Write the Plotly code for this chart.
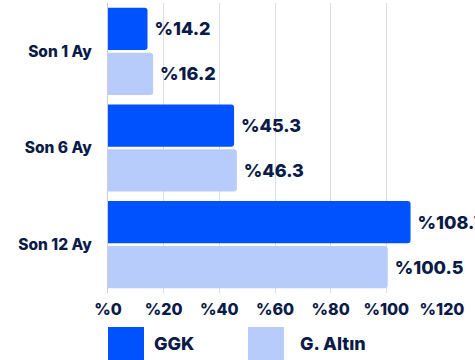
import plotly.graph_objects as go

# Return periods and series values (percent)
periods = ["Son 1 Ay", "Son 6 Ay", "Son 12 Ay"]
ggk = [14.2, 45.3, 108.7]
altin = [16.2, 46.3, 100.5]
series_names = ["GGK", "G. Altın"]
x_ticks = [0, 20, 40, 60, 80, 100, 120]
x_tick_labels = ["%" + str(t) for t in x_ticks]

DARK = "#0B1B47"
C_GGK = "#0052FF"
C_ALTIN = "#B7CCFA"
FONT = "Inter"

fig = go.Figure()
for name, vals, col in [(series_names[0], ggk, C_GGK), (series_names[1], altin, C_ALTIN)]:
    fig.add_trace(go.Bar(
        y=periods, x=vals, name=name, orientation="h",
        marker=dict(color=col, line=dict(width=0)),
        text=[" %" + f"{v:.1f}" for v in vals],
        textposition="outside", constraintext="none", cliponaxis=False,
        textfont=dict(family=FONT, size=18, color=DARK, weight=800),
        showlegend=False,
    ))

fig.update_layout(
    width=475, height=360,
    margin=dict(l=108, r=33, t=3, b=67),
    paper_bgcolor="white", plot_bgcolor="white",
    barmode="group", bargap=0.07, bargroupgap=0.06, barcornerradius=3,
    font=dict(family=FONT, color=DARK),
    xaxis=dict(range=[0, 120], tickvals=x_ticks, ticktext=x_tick_labels,
               showgrid=True, gridcolor="#D9DDE6", gridwidth=1, zeroline=False,
               tickfont=dict(family=FONT, size=16, color=DARK, weight=800),
               ticks="", ticklabelstandoff=5),
    yaxis=dict(autorange="reversed", showgrid=False, showline=True,
               linecolor="#C9CDD6", linewidth=1, ticks="",
               tickfont=dict(family=FONT, size=15.5, color=DARK, weight=800),
               ticklabelstandoff=12),
)

# Legend drawn as rounded swatches with labels below the axis
legend_items = [(series_names[0], C_GGK, 108, 152), (series_names[1], C_ALTIN, 248, 298)]
for name, col, x0, tx in legend_items:
    fig.add_shape(type="rect", xref="paper", yref="paper",
                  x0=(x0 - 108) / 334, x1=(x0 + 36 - 108) / 334,
                  y0=(290 - 357) / 290, y1=(290 - 324) / 290,
                  fillcolor=col, line=dict(width=0))
    fig.add_annotation(xref="paper", yref="paper", x=(tx - 108) / 334,
                       y=(290 - 340) / 290, text=name, showarrow=False,
                       xanchor="left", yanchor="middle",
                       font=dict(family=FONT, size=18, color=DARK, weight=800))

fig.write_html("out.html")
